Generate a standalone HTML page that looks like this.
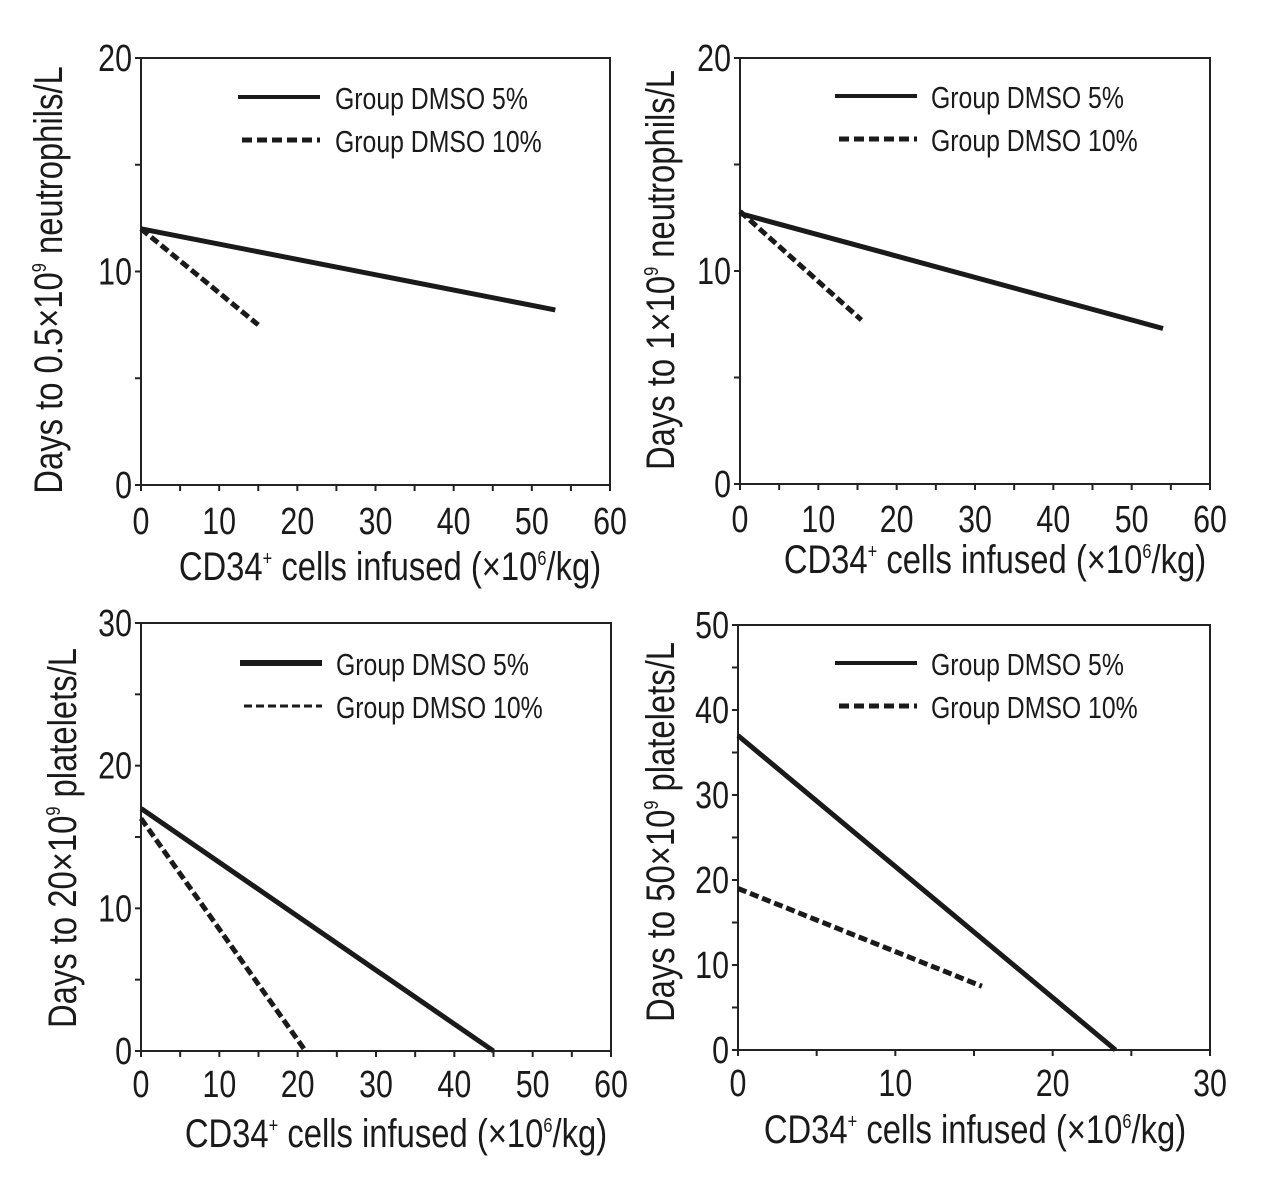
<!DOCTYPE html>
<html><head><meta charset="utf-8"><style>
html,body{margin:0;padding:0;background:#fff;}
svg{display:block;}
text{font-family:"Liberation Sans",sans-serif;fill:#1a1a1a;}
</style></head><body>
<svg id="fig" width="1280" height="1201" viewBox="0 0 1280 1201"></svg>
<script>
const xTicks1=[0,10,20,30,40,50,60];
const yTicks1=[0,10,20];
const p1Dmso5X=[0,53], p1Dmso5Y=[12,8.2];
const p1Dmso10X=[0,15], p1Dmso10Y=[12,7.5];
const xTicks2=[0,10,20,30,40,50,60];
const yTicks2=[0,10,20];
const p2Dmso5X=[0,54], p2Dmso5Y=[12.7,7.3];
const p2Dmso10X=[0,15.5], p2Dmso10Y=[12.8,7.7];
const xTicks3=[0,10,20,30,40,50,60];
const yTicks3=[0,10,20,30];
const p3Dmso5X=[0,45], p3Dmso5Y=[17,0];
const p3Dmso10X=[0,21], p3Dmso10Y=[16.3,0];
const xTicks4=[0,10,20,30];
const yTicks4=[0,10,20,30,40,50];
const p4Dmso5X=[0,24], p4Dmso5Y=[37,0];
const p4Dmso10X=[0,15.5], p4Dmso10Y=[19,7.5];
const legendLabels=["Group DMSO 5%","Group DMSO 10%"];

const NS="http://www.w3.org/2000/svg";
const svg=document.getElementById('fig');
function mk(tag,attrs,parent){const e=document.createElementNS(NS,tag);for(const k in attrs)e.setAttribute(k,attrs[k]);(parent||svg).appendChild(e);return e;}
function txt(parent,x,y,s,size,anchor,rot,sc){
  const t=mk('text',{'font-size':size,'text-anchor':anchor,transform:`translate(${x},${y}) ${rot?'rotate(-90)':''} scale(${sc||0.8},1)`},parent);
  t.innerHTML=s;return t;
}
const xt_='CD34<tspan font-size="20" dy="-15">+</tspan><tspan dy="15"> cells infused (×10</tspan><tspan font-size="20" dy="-15">6</tspan><tspan dy="15">/kg)</tspan>';
const panels=[
 {id:'p1',L:141,R:610,T:58,B:485,xmax:60,ymax:20,xt:xTicks1,yt:yTicks1,minX:5,minY:5,s5:[p1Dmso5X,p1Dmso5Y],s10:[p1Dmso10X,p1Dmso10Y],
  ytitle:'Days to 0.5×10<tspan font-size="20" dy="-16">9</tspan><tspan dy="16">  neutrophils/L</tspan>',ytx:62,yty:280,xtx:390,xty:580,xly:534,lx:238,ltx:335,ly:97,dash10:'10,5',w10:5},
 {id:'p2',L:740,R:1210,T:58,B:484,xmax:60,ymax:20,xt:xTicks2,yt:yTicks2,minX:5,minY:5,s5:[p2Dmso5X,p2Dmso5Y],s10:[p2Dmso10X,p2Dmso10Y],
  ytitle:'Days to 1×10<tspan font-size="20" dy="-16">9</tspan><tspan dy="16"> neutrophils/L</tspan>',ytx:674,yty:270,xtx:995,xty:573,xly:532,lx:835,ltx:931,ly:96,dash10:'10,5',w10:5},
 {id:'p3',L:141,R:611,T:623,B:1051,xmax:60,ymax:30,xt:xTicks3,yt:yTicks3,minX:5,minY:5,s5:[p3Dmso5X,p3Dmso5Y],s10:[p3Dmso10X,p3Dmso10Y],
  ytitle:'Days to 20×10<tspan font-size="20" dy="-16">9</tspan><tspan dy="16"> platelets/L</tspan>',ytx:76,yty:838,xtx:396,xty:1147,xly:1097,lx:240,ltx:336,ly:663,dash10:'8,4',w10:3,wLine10:5,w5leg:6},
 {id:'p4',L:738,R:1210,T:625,B:1050,xmax:30,ymax:50,xt:xTicks4,yt:yTicks4,minX:5,minY:5,s5:[p4Dmso5X,p4Dmso5Y],s10:[p4Dmso10X,p4Dmso10Y],
  ytitle:'Days to 50×10<tspan font-size="20" dy="-16">9</tspan><tspan dy="16"> platelets/L</tspan>',ytx:674,yty:832,xtx:975,xty:1143,xly:1096,lx:835,ltx:931,ly:663,dash10:'10,5',w10:5}
];
panels.forEach(p=>{
  const g=mk('g',{});
  
  
  const sx=v=>p.L+(p.R-p.L)*v/p.xmax, sy=v=>p.B-(p.B-p.T)*v/p.ymax;
  const fr=mk('rect',{x:p.L,y:p.T,width:p.R-p.L,height:p.B-p.T,fill:'none',stroke:'#222','stroke-width':2},g);
  
  
  for(let v=0;v<=p.xmax;v+=p.minX){mk('line',{x1:sx(v),x2:sx(v),y1:p.B,y2:p.B+6,stroke:'#222','stroke-width':2},g);}
  for(let v=0;v<=p.ymax;v+=p.minY){mk('line',{x1:p.L-6,x2:p.L,y1:sy(v),y2:sy(v),stroke:'#222','stroke-width':2},g);}
  p.xt.forEach(v=>{const t=txt(g,sx(v),p.xly,v,38,'middle');});
  p.yt.forEach(v=>{const t=txt(g,p.L-9,sy(v)+13,v,38,'end');});
  const yt=txt(g,p.ytx,p.yty,p.ytitle,40,'middle',true,0.82);
  
  
  const xt=txt(g,p.xtx,p.xty,xt_,40,'middle',false,0.82);
  
  
  const l5=mk('line',{x1:sx(p.s5[0][0]),y1:sy(p.s5[1][0]),x2:sx(p.s5[0][1]),y2:sy(p.s5[1][1]),stroke:'#1a1a1a','stroke-width':5},g);
  
  
  const l10=mk('line',{x1:sx(p.s10[0][0]),y1:sy(p.s10[1][0]),x2:sx(p.s10[0][1]),y2:sy(p.s10[1][1]),stroke:'#1a1a1a','stroke-width':p.wLine10||5,'stroke-dasharray':'9,4'},g);
  
  
  const lg=mk('g',{},g);
  
  
  const a=mk('line',{x1:p.lx,x2:p.lx+82,y1:p.ly,y2:p.ly,stroke:'#1a1a1a','stroke-width':p.w5leg||4},lg);
  
  
  const b=mk('line',{x1:p.lx+4,x2:p.lx+82,y1:p.ly+43,y2:p.ly+43,stroke:'#1a1a1a','stroke-width':p.w10,'stroke-dasharray':p.dash10},lg);
  
  
  const t1=txt(lg,p.ltx,p.ly+12,legendLabels[0],31,'start');
  
  
  const t2=txt(lg,p.ltx,p.ly+55,legendLabels[1],31,'start');
  
  
});
</script>
</body></html>
